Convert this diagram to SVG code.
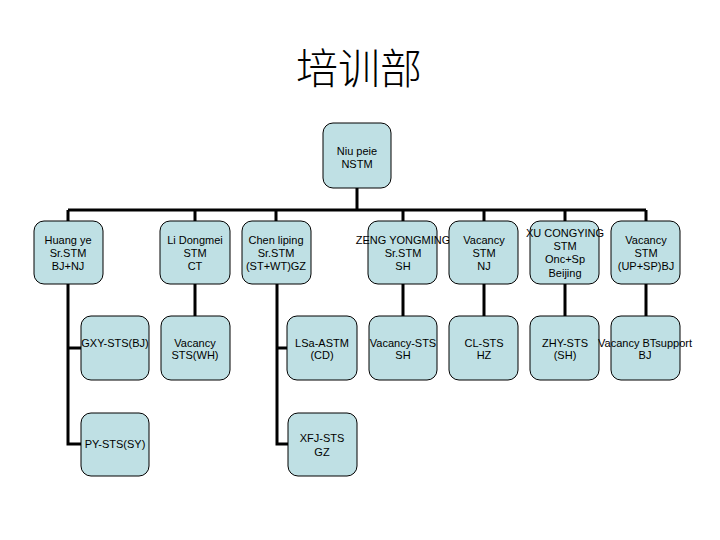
<svg xmlns="http://www.w3.org/2000/svg" width="720" height="540" viewBox="0 0 720 540">
<style>
.box{fill:#bfe0e4;stroke:#000;stroke-width:1}
.t{font-family:"Liberation Sans",Arial,sans-serif;font-size:11px;fill:#000;text-anchor:middle}
.c{fill:none;stroke:#000;stroke-width:3}
.title{font-family:"Noto Sans CJK SC",sans-serif;font-size:42px;font-weight:300;fill:#000;text-anchor:middle}
</style>
<rect width="720" height="540" fill="#fff"/>
<text class="title" x="359" y="84">培训部</text>
<g id="connectors">
<path class="c" d="M357 188V210M68 210H646M68 210V221M195 210V221M276 210V221M403 210V221M484 210V221M565 210V221M646 210V221"/>
<path class="c" d="M68 284V444H81M68 348H81M195 284V316M277 284V444H288M277 348H287M403 284V316M484 284V316M565 284V316M646 284V316"/>
</g>
<g id="n0"><rect class="box" x="323" y="123" width="68" height="65" rx="10"/><text class="t" x="357" y="155">Niu peie</text><text class="t" x="357" y="168">NSTM</text></g>
<g id="n1"><rect class="box" x="34" y="221" width="69" height="63" rx="10"/><text class="t" x="68" y="244">Huang ye</text><text class="t" x="68" y="257">Sr.STM</text><text class="t" x="68" y="270">BJ+NJ</text></g>
<g id="n2"><rect class="box" x="160" y="221" width="70" height="63" rx="10"/><text class="t" x="195" y="244">Li Dongmei</text><text class="t" x="195" y="257">STM</text><text class="t" x="195" y="270">CT</text></g>
<g id="n3"><rect class="box" x="242" y="221" width="69" height="63" rx="10"/><text class="t" x="276" y="244">Chen liping</text><text class="t" x="276" y="257">Sr.STM</text><text class="t" x="276" y="270">(ST+WT)GZ</text></g>
<g id="n4"><rect class="box" x="368" y="221" width="69" height="63" rx="10"/><text class="t" x="403" y="244">ZENG YONGMING</text><text class="t" x="403" y="257">Sr.STM</text><text class="t" x="403" y="270">SH</text></g>
<g id="n5"><rect class="box" x="449" y="221" width="69" height="63" rx="10"/><text class="t" x="484" y="244">Vacancy</text><text class="t" x="484" y="257">STM</text><text class="t" x="484" y="270">NJ</text></g>
<g id="n6"><rect class="box" x="530" y="221" width="69" height="63" rx="10"/><text class="t" x="565" y="237">XU CONGYING</text><text class="t" x="565" y="250">STM</text><text class="t" x="565" y="263">Onc+Sp</text><text class="t" x="565" y="277">Beijing</text></g>
<g id="n7"><rect class="box" x="611" y="221" width="69" height="63" rx="10"/><text class="t" x="646" y="244">Vacancy</text><text class="t" x="646" y="257">STM</text><text class="t" x="646" y="270">(UP+SP)BJ</text></g>
<g id="n8"><rect class="box" x="81" y="316" width="68" height="64" rx="10"/><text class="t" x="115" y="347">GXY-STS(BJ)</text></g>
<g id="n9"><rect class="box" x="161" y="316" width="69" height="64" rx="10"/><text class="t" x="195" y="347">Vacancy</text><text class="t" x="195" y="359">STS(WH)</text></g>
<g id="n10"><rect class="box" x="287" y="316" width="70" height="64" rx="10"/><text class="t" x="322" y="347">LSa-ASTM</text><text class="t" x="322" y="359">(CD)</text></g>
<g id="n11"><rect class="box" x="369" y="316" width="68" height="64" rx="10"/><text class="t" x="403" y="347">Vacancy-STS</text><text class="t" x="403" y="359">SH</text></g>
<g id="n12"><rect class="box" x="449" y="316" width="69" height="64" rx="10"/><text class="t" x="484" y="347">CL-STS</text><text class="t" x="484" y="359">HZ</text></g>
<g id="n13"><rect class="box" x="530" y="316" width="69" height="64" rx="10"/><text class="t" x="565" y="347">ZHY-STS</text><text class="t" x="565" y="359">(SH)</text></g>
<g id="n14"><rect class="box" x="611" y="316" width="69" height="64" rx="10"/><text class="t" x="645" y="347">Vacancy BTsupport</text><text class="t" x="645" y="359">BJ</text></g>
<g id="n15"><rect class="box" x="81" y="413" width="68" height="63" rx="10"/><text class="t" x="115" y="448">PY-STS(SY)</text></g>
<g id="n16"><rect class="box" x="288" y="413" width="69" height="63" rx="10"/><text class="t" x="322" y="442">XFJ-STS</text><text class="t" x="322" y="456">GZ</text></g>
</svg>
